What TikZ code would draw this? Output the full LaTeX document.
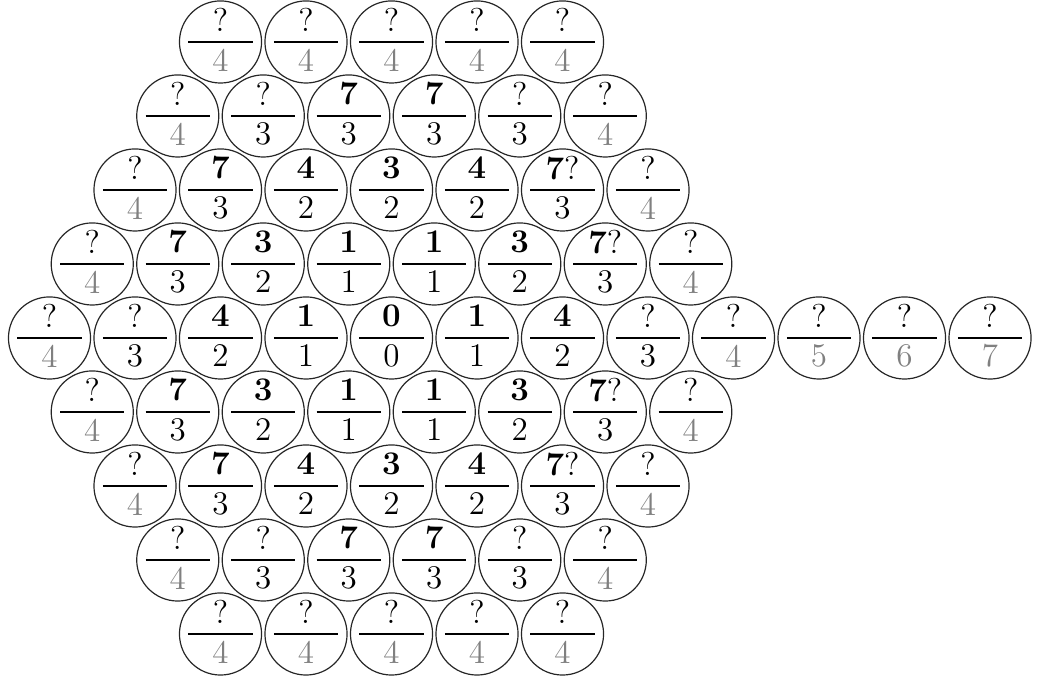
\documentclass[tikz,border=0pt]{standalone}
\usepackage{amsmath}
\usepackage{tikz}
\usetikzlibrary{positioning}

\newcommand{\hexcell}[4]{% row, column, numerator, denominator
  \pgfmathsetmacro{\cx}{0.579+abs(5-#1)*0.5+(#2-1)}
  \pgfmathsetmacro{\cy}{-0.491-(#1-1)*0.8655}
  \ifnum#4>3 \def\dencol{black!50}\else\def\dencol{black}\fi
  \node[cell] (c#1-#2) at (\cx,\cy) {};
  \draw[bar] ([xshift=-3.75mm]c#1-#2.center) -- ([xshift=3.75mm]c#1-#2.center);
  \node[num] at ([yshift=2.6mm]c#1-#2.center) {#3};
  \node[den, text=\dencol] at ([yshift=-2.1mm]c#1-#2.center) {#4};
}
\newcommand{\hexrow}[2]{\foreach \n/\d [count=\k] in {#2} {\hexcell{#1}{\k}{\n}{\d}}}

\begin{document}
\begin{tikzpicture}[
  cell/.style={circle, draw=black!85, minimum size=9.6mm, inner sep=0pt, line width=0.4pt},
  bar/.style={line width=0.8pt},
  num/.style={inner sep=0pt, font=\fontsize{11}{13}\selectfont},
  den/.style={inner sep=0pt, font=\fontsize{11}{13}\selectfont},
]
  \useasboundingbox (0,0) rectangle (12.14,-8.0);

  \hexrow{1}{?/4, ?/4, ?/4, ?/4, ?/4}
  \hexrow{2}{?/4, ?/3, \textbf{7}/3, \textbf{7}/3, ?/3, ?/4}
  \hexrow{3}{?/4, \textbf{7}/3, \textbf{4}/2, \textbf{3}/2, \textbf{4}/2, \textbf{7}?/3, ?/4}
  \hexrow{4}{?/4, \textbf{7}/3, \textbf{3}/2, \textbf{1}/1, \textbf{1}/1, \textbf{3}/2, \textbf{7}?/3, ?/4}
  \hexrow{5}{?/4, ?/3, \textbf{4}/2, \textbf{1}/1, \textbf{0}/0, \textbf{1}/1, \textbf{4}/2, ?/3, ?/4, ?/5, ?/6, ?/7}
  \hexrow{6}{?/4, \textbf{7}/3, \textbf{3}/2, \textbf{1}/1, \textbf{1}/1, \textbf{3}/2, \textbf{7}?/3, ?/4}
  \hexrow{7}{?/4, \textbf{7}/3, \textbf{4}/2, \textbf{3}/2, \textbf{4}/2, \textbf{7}?/3, ?/4}
  \hexrow{8}{?/4, ?/3, \textbf{7}/3, \textbf{7}/3, ?/3, ?/4}
  \hexrow{9}{?/4, ?/4, ?/4, ?/4, ?/4}
\end{tikzpicture}
\end{document}
